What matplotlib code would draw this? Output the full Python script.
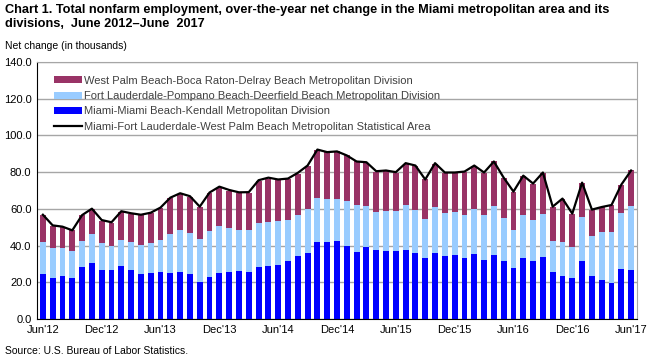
import numpy as np
import matplotlib
matplotlib.use('Agg')
import matplotlib.pyplot as plt

plt.rcParams['font.family'] = ['Liberation Sans', 'DejaVu Sans']

# monthly over-the-year net change, June 2012 - June 2017 (thousands)
miami = [24.6, 22.4, 23.5, 22.4, 28.4, 30.6, 26.8, 26.8, 29.0, 26.8,
         24.6, 25.1, 25.7, 25.1, 25.7, 24.6, 20.2, 23.0, 25.1, 25.7,
         26.2, 25.7, 28.4, 29.0, 29.5, 31.7, 34.4, 36.1, 42.1, 42.1,
         42.6, 39.9, 36.6, 39.3, 37.7, 37.2, 37.2, 37.7, 36.1, 33.3,
         36.1, 34.4, 35.0, 33.3, 35.5, 32.2, 35.0, 31.7, 27.9, 33.3,
         31.7, 33.9, 25.7, 23.5, 22.4, 31.7, 23.5, 21.3, 19.7, 27.3,
         26.8]
ftl = [17.5, 16.4, 15.3, 14.8, 14.2, 15.8, 14.7, 13.1, 14.2, 15.3,
       15.8, 16.4, 17.5, 21.3, 22.9, 22.4, 23.5, 25.1, 25.7, 24.0,
       22.4, 22.9, 24.1, 24.0, 24.1, 22.4, 22.4, 24.0, 24.0, 23.5,
       23.0, 24.6, 25.7, 22.4, 20.8, 21.8, 21.8, 24.6, 23.5, 21.3,
       25.1, 23.5, 23.5, 23.5, 24.6, 24.6, 26.7, 23.5, 20.7, 23.5,
       22.4, 23.5, 16.9, 18.6, 16.9, 24.0, 21.9, 26.2, 27.8, 30.6,
       34.9]
wpb = [14.7, 12.0, 11.5, 11.1, 14.0, 13.7, 12.1, 12.6, 15.3, 15.3,
       16.4, 16.4, 17.5, 19.7, 19.7, 19.7, 17.5, 20.8, 20.8, 20.2,
       20.0, 20.3, 22.9, 23.5, 22.4, 22.4, 22.4, 23.5, 26.2, 25.7,
       25.7, 24.6, 23.5, 23.5, 21.8, 21.9, 20.8, 22.4, 23.5, 21.4,
       23.5, 21.9, 21.3, 23.5, 23.5, 23.0, 24.1, 21.8, 20.8, 21.3,
       19.7, 22.4, 18.6, 23.5, 18.1, 18.6, 14.2, 13.7, 14.8, 15.3,
       19.2]
msa = [56.8, 51.0, 50.3, 48.3, 56.6, 60.1, 53.9, 52.7, 58.7, 57.6,
       56.8, 57.9, 60.7, 66.1, 68.5, 66.9, 61.2, 68.9, 72.1, 70.3,
       69.0, 69.1, 75.6, 77.0, 76.0, 76.5, 79.6, 83.6, 92.3, 90.9,
       91.3, 89.1, 85.8, 85.4, 80.5, 80.9, 80.0, 84.9, 83.6, 76.0,
       84.9, 79.8, 79.8, 80.3, 83.6, 79.8, 85.8, 77.0, 69.4, 78.1,
       73.8, 79.8, 61.2, 65.6, 57.4, 74.3, 59.6, 61.0, 62.1, 73.2,
       80.9]
tick_labels = ["Jun'12", "Dec'12", "Jun'13", "Dec'13", "Jun'14", "Dec'14",
               "Jun'15", "Dec'15", "Jun'16", "Dec'16", "Jun'17"]

x = np.arange(len(miami))
miami = np.array(miami)
ftl = np.array(ftl)
wpb = np.array(wpb)

fig = plt.figure(figsize=(6.57, 3.61), dpi=100)
ax = fig.add_axes([37/657, 1-319/361, 600/657, 257/361])

b1 = ax.bar(x, miami, width=0.6, color='#0000FF', zorder=2)
b2 = ax.bar(x, ftl, width=0.6, bottom=miami, color='#99CCFF', zorder=2)
b3 = ax.bar(x, wpb, width=0.6, bottom=miami+ftl, color='#993366', zorder=2)
ln, = ax.plot(x, msa, color='black', lw=1.6, zorder=3)

ax.set_xlim(-0.6, len(x)-0.4)
ax.set_ylim(0, 140)
ax.set_yticks(np.arange(0, 141, 20))
ax.set_yticklabels(['%.1f' % v for v in np.arange(0, 141, 20)], fontsize=8)
ax.set_xticks(np.arange(0, len(x), 6))
ax.set_xticklabels(tick_labels, fontsize=8)
ax.tick_params(length=0, pad=4)
ax.yaxis.grid(True, color='#A6A6A6', lw=1)
ax.set_axisbelow(True)
for s in ['top', 'right']:
    ax.spines[s].set_color('#A6A6A6')
for s in ['left', 'bottom']:
    ax.spines[s].set_color('black')

leg = ax.legend([b3, b2, b1, ln],
                ['West Palm Beach-Boca Raton-Delray Beach Metropolitan Division',
                 'Fort Lauderdale-Pompano Beach-Deerfield Beach Metropolitan Division',
                 'Miami-Miami Beach-Kendall Metropolitan Division',
                 'Miami-Fort Lauderdale-West Palm Beach Metropolitan Statistical Area'],
                loc='upper left', bbox_to_anchor=(0.012, 0.985), frameon=False,
                fontsize=8, handlelength=2.5, handleheight=0.6,
                handletextpad=0.15, labelspacing=0.47)
for t in leg.get_texts():
    t.set_color('#404040')

fig.text(5/657, 1-4/361, 'Chart 1. Total nonfarm employment, over-the-year net change in the Miami metropolitan area and its\ndivisions,  June 2012\u2013June  2017',
         fontsize=9.2, fontweight='bold', va='top', ha='left', linespacing=1.2)
fig.text(5/657, 1-46/361, 'Net change (in thousands)', fontsize=7.5, va='center', ha='left')
fig.text(5/657, 1-351/361, 'Source: U.S. Bureau of Labor Statistics.', fontsize=7.5, va='center', ha='left')

fig.savefig('out.png', dpi=100)
